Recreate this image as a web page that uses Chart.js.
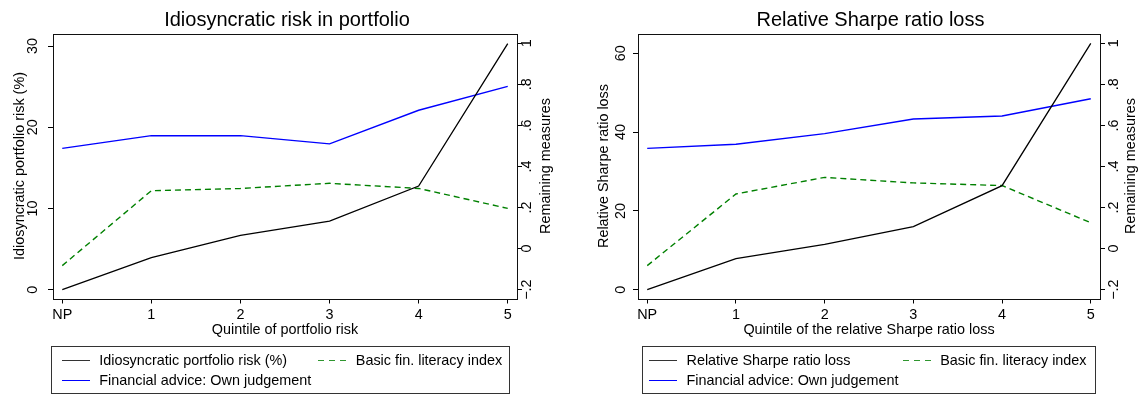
<!DOCTYPE html>
<html>
<head>
<meta charset="utf-8">
<script src="https://cdn.jsdelivr.net/npm/chart.js@4.4.0/dist/chart.umd.min.js"></script>
<style>
  body { margin: 0; background: #fff; font-family: "Liberation Sans", Arial, sans-serif; }
  #wrap { position: relative; width: 1145px; height: 394px; overflow: hidden; }
  canvas { position: absolute; top: 0; }
  .legend { position: absolute; top: 346px; height: 47.5px; border: 1px solid #333; box-sizing: border-box; }
  .item { position: absolute; height: 18px; display: flex; align-items: center; font-size: 14.4px; color: #000; white-space: nowrap; }
  .swatch { width: 28px; height: 1px; margin-right: 9.5px; }
  .dash { background: repeating-linear-gradient(to right, #2f962f 0 6px, transparent 6px 11px); height: 1.5px; }
</style>
</head>
<body>
<div id="wrap">
  <canvas id="riskChart" width="572" height="394" style="left:0"></canvas>
  <canvas id="sharpeChart" width="573" height="394" style="left:572px"></canvas>

  <div class="legend" style="left:51px;width:459px">
    <div class="item" style="left:9.7px;top:4.4px"><div class="swatch" style="background:#333"></div>Idiosyncratic portfolio risk (%)</div>
    <div class="item" style="left:266.3px;top:4.4px"><div class="swatch dash"></div>Basic fin. literacy index</div>
    <div class="item" style="left:9.7px;top:24px"><div class="swatch" style="background:#0000ff"></div>Financial advice: Own judgement</div>
  </div>
  <div class="legend" style="left:642.3px;width:453.4px">
    <div class="item" style="left:5.7px;top:4.4px"><div class="swatch" style="background:#333"></div>Relative Sharpe ratio loss</div>
    <div class="item" style="left:259.4px;top:4.4px"><div class="swatch dash"></div>Basic fin. literacy index</div>
    <div class="item" style="left:5.7px;top:24px"><div class="swatch" style="background:#0000ff"></div>Financial advice: Own judgement</div>
  </div>
</div>

<script>
// x categories (positions 0..5)
const quintiles = ['NP', '1', '2', '3', '4', '5'];
const xPos = [0, 1, 2, 3, 4, 5];

// left panel: idiosyncratic risk
const riskIdio = [0, 3.94, 6.69, 8.45, 12.76, 30.3];
const riskAdvice = [0.488, 0.55, 0.55, 0.51, 0.674, 0.79];
const riskLiteracy = [-0.083, 0.282, 0.293, 0.318, 0.293, 0.196];
const riskTicks = [0, 10, 20, 30];

// right panel: relative Sharpe ratio loss
const sharpeLoss = [0, 7.87, 11.5, 16.0, 26.4, 62.5];
const sharpeAdvice = [0.488, 0.508, 0.56, 0.631, 0.646, 0.73];
const sharpeLiteracy = [-0.083, 0.266, 0.347, 0.32, 0.307, 0.126];
const sharpeTicks = [0, 20, 40, 60];

// shared right axis
const remainTicks = [-0.2, 0, 0.2, 0.4, 0.6, 0.8, 1];
const remainLabels = ['\u2212.2', '0', '.2', '.4', '.6', '.8', '1'];

const FONT = '"Liberation Sans", Arial, sans-serif';

function pts(vals) {
  return vals.map((v, i) => ({x: xPos[i], y: v}));
}

// frame + rotated y tick labels / titles (Stata style)
const sideText = {
  id: 'sideText',
  afterDraw(chart, args, o) {
    const {ctx, chartArea: a} = chart;
    ctx.save();
    ctx.strokeStyle = '#111';
    ctx.lineWidth = 1;
    ctx.strokeRect(Math.round(a.left) + 0.5, Math.round(a.top) + 0.5,
                   Math.round(a.right - a.left), Math.round(a.bottom - a.top));
    ctx.fillStyle = '#000';
    ctx.textAlign = 'center';
    ctx.textBaseline = 'middle';
    ctx.font = '14.4px ' + FONT;
    const put = (txt, x, y) => {
      ctx.save();
      ctx.translate(x, y);
      ctx.rotate(-Math.PI / 2);
      ctx.fillText(txt, 0, 0);
      ctx.restore();
    };
    const yl = chart.scales.y, yr = chart.scales.y1;
    o.leftTicks.forEach(v => put(String(v), a.left + o.ltx, yl.getPixelForValue(v)));
    remainTicks.forEach((v, i) => put(remainLabels[i], a.right + o.rtx, yr.getPixelForValue(v)));
    const mid = (a.top + a.bottom) / 2;
    put(o.leftTitle, a.left + o.lttl, mid);
    put('Remaining measures', a.right + o.rttl, mid);
    ctx.restore();
  }
};

function makeChart(id, p) {
  new Chart(document.getElementById(id), {
    type: 'line',
    data: {
      datasets: [
        {data: pts(p.main), yAxisID: 'y', borderColor: '#000', borderWidth: 1.3},
        {data: pts(p.advice), yAxisID: 'y1', borderColor: '#0000ff', borderWidth: 1.4},
        {data: pts(p.literacy), yAxisID: 'y1', borderColor: '#008000', borderWidth: 1.4, borderDash: [6, 4]}
      ]
    },
    options: {
      responsive: false,
      animation: false,
      layout: {padding: {left: p.padL, right: 0, top: 0, bottom: 49}},
      elements: {point: {radius: 0}, line: {tension: 0}},
      plugins: {
        legend: {display: false},
        tooltip: {enabled: false},
        title: {
          display: true, text: p.title, color: '#000',
          font: {family: FONT, size: 20, weight: 'normal'},
          padding: {top: 8.5, bottom: 1}
        },
        sideText: p.side
      },
      scales: {
        x: {
          type: 'linear', min: -0.104, max: 5.104,
          afterBuildTicks: s => { s.ticks = xPos.map(v => ({value: v})); },
          afterFit: s => { s.height = 46.5; },
          ticks: {
            callback: v => quintiles[v], color: '#000', padding: 3,
            maxRotation: 0, autoSkip: false, font: {family: FONT, size: 14.4}
          },
          grid: {drawOnChartArea: false, tickLength: 5, color: '#000'},
          border: {display: false},
          title: {
            display: true, text: p.xTitle, color: '#000',
            font: {family: FONT, size: 14.4}, padding: {top: 0, bottom: 6.5}
          }
        },
        y: {
          type: 'linear', position: 'left', min: p.yMin, max: p.yMax,
          afterBuildTicks: s => { s.ticks = p.leftTicks.map(v => ({value: v})); },
          afterFit: s => { s.width = p.wL; },
          ticks: {display: false},
          grid: {drawOnChartArea: false, tickLength: 5, color: '#000'},
          border: {display: false}
        },
        y1: {
          type: 'linear', position: 'right', min: -0.2431, max: 1.0477,
          afterBuildTicks: s => { s.ticks = remainTicks.map(v => ({value: v})); },
          afterFit: s => { s.width = p.wR; },
          ticks: {display: false},
          grid: {drawOnChartArea: false, tickLength: 5, color: '#000'},
          border: {display: false}
        }
      }
    },
    plugins: [sideText]
  });
}

makeChart('riskChart', {
  title: 'Idiosyncratic risk in portfolio',
  xTitle: 'Quintile of portfolio risk',
  main: riskIdio, advice: riskAdvice, literacy: riskLiteracy,
  leftTicks: riskTicks, yMin: -1.083, yMax: 31.54,
  padL: 2, wL: 51, wR: 55,
  side: {leftTicks: riskTicks, leftTitle: 'Idiosyncratic portfolio risk (%)',
         ltx: -20, lttl: -33, rtx: 9.6, rttl: 28.6}
});

makeChart('sharpeChart', {
  title: 'Relative Sharpe ratio loss',
  xTitle: 'Quintile of the relative Sharpe ratio loss',
  main: sharpeLoss, advice: sharpeAdvice, literacy: sharpeLiteracy,
  leftTicks: sharpeTicks, yMin: -2.234, yMax: 65.03,
  padL: 24, wL: 42, wR: 45,
  side: {leftTicks: sharpeTicks, leftTitle: 'Relative Sharpe ratio loss',
         ltx: -17.3, lttl: -34.4, rtx: 14, rttl: 31}
});
</script>
</body>
</html>
